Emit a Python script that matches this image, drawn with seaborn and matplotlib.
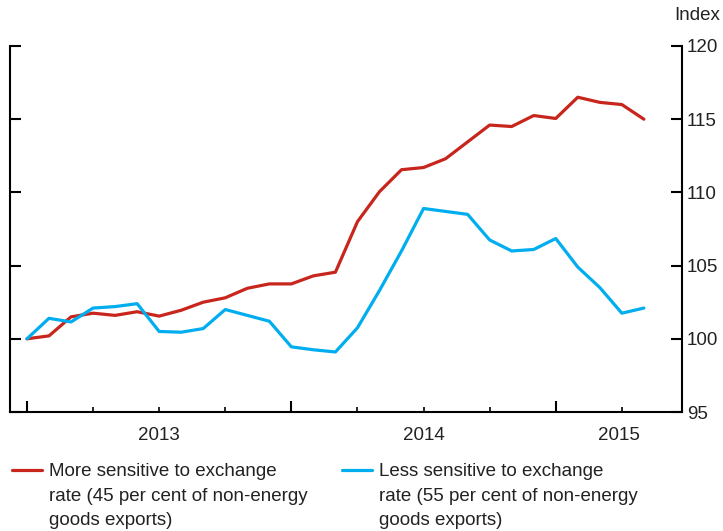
import pandas as pd
import matplotlib.pyplot as plt
import seaborn as sns

# monthly index, Jan 2013 = 100
months = pd.date_range("2013-01-01", periods=29, freq="MS")
more_sensitive = [100.0, 100.2, 101.5, 101.75, 101.6, 101.85, 101.55, 101.95, 102.5, 102.8,
                  103.45, 103.75, 103.75, 104.3, 104.55, 108.0, 110.05, 111.55, 111.7, 112.3,
                  113.45, 114.6, 114.5, 115.25, 115.05, 116.5, 116.15, 116.0, 115.0]
less_sensitive = [100.0, 101.4, 101.15, 102.1, 102.2, 102.4, 100.5, 100.45, 100.7, 102.0,
                  101.6, 101.2, 99.45, 99.25, 99.1, 100.75, 103.3, 106.0, 108.9, 108.7,
                  108.5, 106.75, 106.0, 106.1, 106.85, 104.9, 103.5, 101.75, 102.1]
series_labels = [
    "More sensitive to exchange\nrate (45 per cent of non-energy\ngoods exports)",
    "Less sensitive to exchange\nrate (55 per cent of non-energy\ngoods exports)",
]
colors = ["#c8261c", "#00aeef"]
y_ticks = [95, 100, 105, 110, 115, 120]
years = ["2013", "2014", "2015"]

df = pd.DataFrame({
    "t": list(range(len(months))) * 2,
    "value": more_sensitive + less_sensitive,
    "series": [series_labels[0]] * len(months) + [series_labels[1]] * len(months),
})

sns.set_theme(style="white")
plt.rcParams["font.family"] = ["Liberation Sans Narrow", "Liberation Sans"]
plt.rcParams["text.color"] = "#222222"

fig = plt.figure(figsize=(7.23, 5.31), dpi=100)
ax = fig.add_axes([10 / 723, 1 - 412 / 531, 672 / 723, 366 / 531])

sns.lineplot(data=df, x="t", y="value", hue="series", palette=colors,
             linewidth=2.3, ax=ax, legend=False)

x_min = -0.77
x_max = 29.73
ax.set_xlim(x_min, x_max)
ax.set_ylim(95, 120)
ax.set_xlabel("")
ax.set_ylabel("")

for side in ["left", "right", "bottom"]:
    ax.spines[side].set_visible(True)
    ax.spines[side].set_color("black")
    ax.spines[side].set_linewidth(1.5)
ax.spines["top"].set_visible(False)

# y axis: ticks in on both sides, labels right
ax.set_yticks(y_ticks)
ax.tick_params(axis="y", which="major", direction="in", length=8, width=1.5,
               left=True, right=True, labelleft=False, labelright=True,
               labelsize=13.5, pad=3.5, colors="black", labelcolor="#222222")

# x axis: year ticks (long) and quarter ticks (short)
ax.set_xticks([0, 12, 24])
ax.set_xticks([3, 6, 9, 15, 18, 21, 27], minor=True)
ax.tick_params(axis="x", which="major", direction="in", length=8, width=1.5,
               bottom=True, labelbottom=False, colors="black")
ax.tick_params(axis="x", which="minor", direction="in", length=3.8, width=1.2,
               bottom=True, colors="black")

# year labels centred in each year's span
starts = [0, 12, 24]
label_pos = [(s + min(s + 12, x_max)) / 2 for s in starts]
sec = ax.secondary_xaxis("bottom")
sec.set_xticks(label_pos, labels=years)
sec.tick_params(length=0, pad=11, labelsize=13.5, labelcolor="#222222")
sec.spines["bottom"].set_visible(False)

ax.text(1.0565, 1.082, "Index", transform=ax.transAxes, ha="right", va="center",
        fontsize=13.5)

handles = [plt.Line2D([], [], color=c, linewidth=2.3) for c in colors]
leg = fig.legend(handles, series_labels, loc="upper left",
                 bbox_to_anchor=(12 / 723, 1 - 463 / 531), ncol=2, frameon=False,
                 fontsize=13.5, handlelength=1.6, handletextpad=0.35,
                 columnspacing=1.88, borderpad=0, borderaxespad=0)
for t in leg.get_texts():
    t.set_linespacing(1.58)
# put the swatch on the first line of each label
for ln in leg.get_lines():
    ln.set_ydata([y + 18.7 for y in ln.get_ydata()])

fig.savefig("out.png", dpi=100)
